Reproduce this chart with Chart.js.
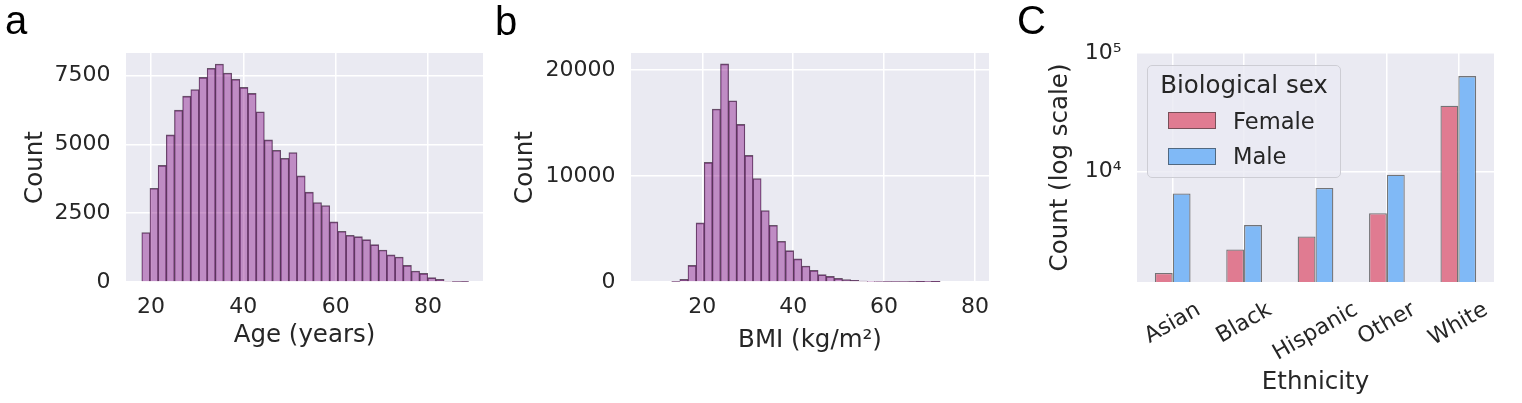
<!DOCTYPE html>
<html><head><meta charset="utf-8">
<script src="https://cdn.jsdelivr.net/npm/chart.js@4.4.1/dist/chart.umd.min.js"></script>
<style>
html,body{margin:0;padding:0;background:#fff;width:1522px;height:403px;overflow:hidden;position:relative;}
canvas{position:absolute;left:0;top:0;}
.lt{position:absolute;font-family:"Liberation Sans",Arial,sans-serif;font-size:40px;line-height:40px;color:#000;}
.tx{position:absolute;font-family:"DejaVu Sans",sans-serif;color:#262626;white-space:nowrap;}
.patch{position:absolute;box-sizing:border-box;border:1px solid rgba(50,50,50,0.6);}
</style></head><body>
<canvas id="ca" width="1522" height="403"></canvas>
<canvas id="cb" width="1522" height="403"></canvas>
<canvas id="cc" width="1522" height="403"></canvas>
<div class="lt" style="left:5px;top:0px">a</div>
<div class="lt" style="left:495px;top:1px">b</div>
<div class="lt" style="left:1017px;top:0px">C</div>
<div id="legendBox" style="position:absolute;left:1147px;top:65px;width:194px;height:113px;box-sizing:border-box;border:1px solid #CDCDD4;border-radius:5px;background:rgba(234,234,242,0.8);"></div>
<div class="tx" id="legTitle" style="left:1147px;width:194px;text-align:center;top:72.6px;font-size:24.5px;line-height:24.5px;"></div>
<div class="patch" id="pF" style="left:1168px;top:111.5px;width:48px;height:17.5px;"></div>
<div class="patch" id="pM" style="left:1168px;top:147.5px;width:48px;height:17.5px;"></div>
<div class="tx" id="lF" style="left:1233px;top:109.5px;font-size:22.6px;line-height:22.6px;"></div>
<div class="tx" id="lM" style="left:1233px;top:144.8px;font-size:22.6px;line-height:22.6px;"></div>
<script>
// ---------------- data ----------------
const AGE_BIN_START = 18.0;
const AGE_BIN_WIDTH = 1.77;
const AGE_COUNTS = [1800,3410,4240,5350,6250,6760,7000,7440,7770,7925,7600,7370,7075,6860,6190,5170,4790,4500,4710,3860,3265,2890,2780,2185,1845,1700,1650,1540,1360,1165,985,910,605,400,315,160,95,25,10,5];
const AGE_TICKS = [20,40,60,80];
const AGE_COUNT_TICKS = [0,2500,5000,7500];

const BMI_BIN_START = 7.89;
const BMI_BIN_WIDTH = 1.79;
const BMI_COUNTS = [0,0,0,30,250,1575,5575,11280,16320,20570,17100,14870,11940,9765,6740,5355,3845,2960,2175,1510,1100,695,535,345,220,155,95,60,40,30,25,20,15,10,8,5,0,0,0,0];
const BMI_TICKS = [20,40,60,80];
const BMI_COUNT_TICKS = [0,10000,20000];

const ETHNICITIES = ['Asian','Black','Hispanic','Other','White'];
const FEMALE_COUNTS = [1400,2210,2850,4460,35900];
const MALE_COUNTS = [6560,3550,7280,9430,63900];
const LOG_TICKS = [10000,100000];
const LOG_TICK_LABELS = ['10\u2074','10\u2075'];
const SEX_LABELS = ['Female','Male'];
const LEGEND_TITLE = 'Biological sex';

// ---------------- style ----------------
const FONT = '"DejaVu Sans", sans-serif';
const TXT = '#262626';
const BG = '#EAEAF2';
const HIST_FILL = 'rgba(128,0,128,0.40)';
const HIST_EDGE = 'rgba(45,20,45,0.7)';
const F_COL = '#E07B91';
const M_COL = '#80B9F6';
const BAR_EDGE = 'rgba(50,50,50,0.65)';
const W = 1522, H = 403;

Chart.defaults.font.family = FONT;
Chart.defaults.color = TXT;

document.getElementById('legTitle').textContent = LEGEND_TITLE;
document.getElementById('lF').textContent = SEX_LABELS[0];
document.getElementById('lM').textContent = SEX_LABELS[1];
document.getElementById('pF').style.background = F_COL;
document.getElementById('pM').style.background = M_COL;

const bgPlugin = {id:'bgArea', beforeDraw(chart){
  const {ctx, chartArea:{left,top,right,bottom}} = chart;
  ctx.save(); ctx.fillStyle = BG; ctx.fillRect(left,top,right-left,bottom-top); ctx.restore();
}};

function layout(box, padLeft){
  return {padding:{left:padLeft, top:box.t, right:W-box.r, bottom:0}};
}
function gridOpts(){ return {color:'#FFFFFF', lineWidth:1.5, drawTicks:false}; }

function histChart(id, box, padLeft, start, width, counts, xTicks, yTicks, xmin, xmax, ymax, xTitle, yTitle, xTitlePad, yTitlePad){
  const data = counts.map((c,i)=>({x:start+(i+0.5)*width, y:c}));
  return new Chart(document.getElementById(id), {
    type:'bar',
    data:{datasets:[{data, backgroundColor:HIST_FILL, borderColor:HIST_EDGE,
      borderWidth:{top:1,left:0.6,right:0.6,bottom:0}, borderSkipped:false,
      barPercentage:1, categoryPercentage:1}]},
    options:{
      responsive:false, animation:false, events:[],
      layout:layout(box,padLeft),
      plugins:{legend:{display:false}, tooltip:{enabled:false}},
      scales:{
        x:{type:'linear', min:xmin, max:xmax, offset:false,
          grid:{...gridOpts(), offset:false}, border:{display:false},
          afterBuildTicks:s=>{s.ticks = xTicks.map(v=>({value:v}));},
          afterFit:s=>{s.height = H-box.b;},
          ticks:{font:{size:22}, color:TXT, padding:12.5, maxRotation:0, callback:v=>String(v)},
          title:{display:true, text:xTitle, font:{size:24.5}, color:TXT, padding:{top:0,bottom:xTitlePad}}},
        y:{type:'linear', min:0, max:ymax,
          grid:gridOpts(), border:{display:false},
          afterBuildTicks:s=>{s.ticks = yTicks.map(v=>({value:v}));},
          afterFit:s=>{s.width = box.l-padLeft;},
          ticks:{font:{size:22}, color:TXT, padding:15.5, callback:v=>String(v)},
          title:{display:true, text:yTitle, font:{size:24.5}, color:TXT, padding:{top:yTitlePad,bottom:0}}}
      }
    },
    plugins:[bgPlugin]
  });
}

histChart('ca', {l:126,t:53,r:483,b:282}, 0, AGE_BIN_START, AGE_BIN_WIDTH, AGE_COUNTS,
  AGE_TICKS, AGE_COUNT_TICKS, 14.585, 91.91, 8326, 'Age (years)', 'Count', 52.3, 20.6);
histChart('cb', {l:631,t:53,r:989,b:282}, 490, BMI_BIN_START, BMI_BIN_WIDTH, BMI_COUNTS,
  BMI_TICKS, BMI_COUNT_TICKS, 4.31, 83.08, 21600, 'BMI (kg/m\u00B2)', 'Count', 47.3, 21.2);

// ---------------- panel C ----------------
const boxC = {l:1137,t:53,r:1494,b:282};
const padLeftC = 1000;
const rotLabels = {id:'rotLabels', afterDraw(chart){
  const s = chart.scales.x, ctx = chart.ctx, fs = 22;
  ctx.save();
  ctx.font = fs+'px '+FONT; ctx.fillStyle = TXT;
  ctx.textAlign = 'center'; ctx.textBaseline = 'middle';
  const top = chart.chartArea.bottom + 15.2;
  ETHNICITIES.forEach((lab,i)=>{
    const x = s.getPixelForValue(i);
    const w = ctx.measureText(lab).width;
    const h = fs*1.17;
    const cy = top + (w*0.5 + h*0.866)/2;
    ctx.save(); ctx.translate(x, cy); ctx.rotate(-Math.PI/6); ctx.fillText(lab,0,0); ctx.restore();
  });
  ctx.restore();
}};
new Chart(document.getElementById('cc'), {
  type:'bar',
  data:{labels:ETHNICITIES, datasets:[
    {label:SEX_LABELS[0], data:FEMALE_COUNTS, backgroundColor:F_COL, borderColor:BAR_EDGE, borderWidth:1.3, borderSkipped:'start', barPercentage:1, categoryPercentage:0.5},
    {label:SEX_LABELS[1], data:MALE_COUNTS, backgroundColor:M_COL, borderColor:BAR_EDGE, borderWidth:1.3, borderSkipped:'start', barPercentage:1, categoryPercentage:0.5}
  ]},
  options:{
    responsive:false, animation:false, events:[],
    layout:layout(boxC,padLeftC),
    plugins:{legend:{display:false}, tooltip:{enabled:false}},
    scales:{
      x:{type:'category', offset:true, grid:{...gridOpts(), offset:false}, border:{display:false},
        afterFit:s=>{s.height = H-boxC.b;},
        ticks:{display:false},
        title:{display:true, text:'Ethnicity', font:{size:24.5}, color:TXT, padding:{top:0,bottom:5.7}}},
      y:{type:'logarithmic', min:1177, max:100000,
        grid:gridOpts(), border:{display:false},
        afterBuildTicks:s=>{s.ticks = LOG_TICKS.map(v=>({value:v}));},
        afterFit:s=>{s.width = boxC.l-padLeftC;},
        ticks:{font:{size:22}, color:TXT, padding:15.5, callback:v=>{const k=LOG_TICKS.indexOf(v); return k>=0?LOG_TICK_LABELS[k]:'';}},
        title:{display:true, text:'Count (log scale)', font:{size:24.5}, color:TXT, padding:{top:46.2,bottom:0}}}
    }
  },
  plugins:[bgPlugin, rotLabels]
});
</script>
</body></html>
